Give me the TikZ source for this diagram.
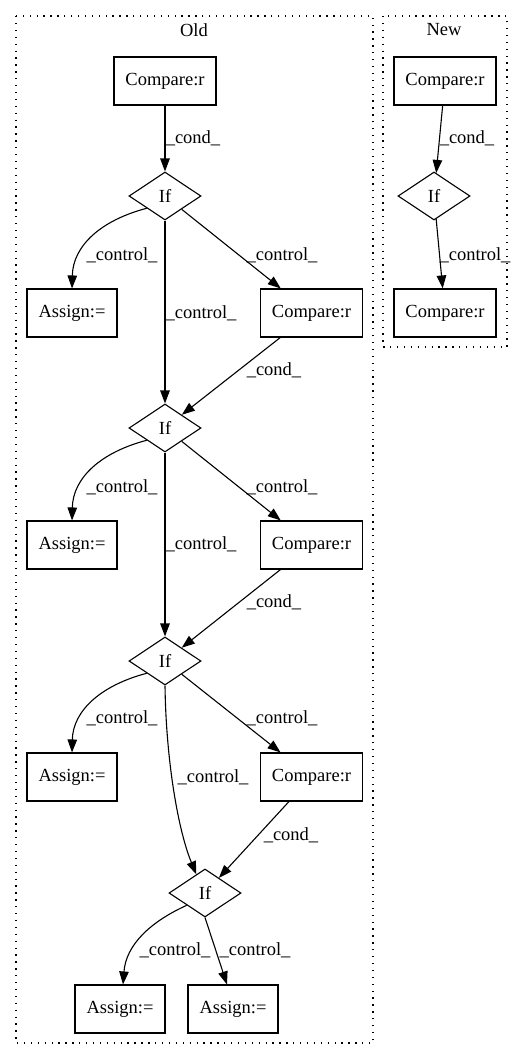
\documentclass[tikz,border=0pt]{standalone}
\usepackage{fontspec}
\setmainfont{Liberation Serif}
\usetikzlibrary{shapes.geometric,arrows.meta}
\begin{document}
\begin{tikzpicture}[x=1pt,y=-1pt,
  every node/.style={font=\fontsize{18.5}{22}\selectfont, inner sep=0pt},
  cmpbox/.style={draw, line width=1.1pt, rectangle, minimum width=102pt, minimum height=48pt},
  asgbox/.style={draw, line width=1.1pt, rectangle, minimum width=90pt, minimum height=48pt},
  ifnode/.style={draw, line width=1.1pt, diamond, aspect=1.5, minimum width=72pt, minimum height=48pt},
  cluster/.style={draw, line width=1.3pt, dash pattern=on 1.3pt off 5.6pt},
  ed/.style={draw, line width=1.1pt, -{Triangle[length=13pt,width=9.5pt]}},
  lbl/.style={}
]
\useasboundingbox (0,0) rectangle (523,1060);

% clusters
\draw[cluster] (16,16) rectangle (373,1043);
\draw[cluster] (383,16) rectangle (507,347);
\node (tOld) at (194,30) {Old};
\node (tNew) at (444,30) {New};

% Old graph
\node[cmpbox] (oc1) at (165,81) {Compare:r};
\node[ifnode] (if1) at (165,196) {If};
\node[asgbox] (as1) at (72,313) {Assign:=};
\node[cmpbox] (oc2) at (311.5,313) {Compare:r};
\node[ifnode] (if2) at (165,428) {If};
\node[asgbox] (as2) at (72,545) {Assign:=};
\node[cmpbox] (oc3) at (311.5,545) {Compare:r};
\node[ifnode] (if3) at (165,661) {If};
\node[asgbox] (as3) at (72,777) {Assign:=};
\node[cmpbox] (oc4) at (311.5,777) {Compare:r};
\node[ifnode] (if4) at (205,893) {If};
\node[asgbox] (as4) at (120,1009) {Assign:=};
\node[asgbox] (as5) at (233,1009) {Assign:=};

% New graph
\node[cmpbox] (nc1) at (445,81) {Compare:r};
\node[ifnode] (nif) at (434,196) {If};
\node[cmpbox] (nc2) at (445,313) {Compare:r};

% Old edges
\draw[ed] (oc1) -- (if1);
\node[lbl] (l1) at (193,138) {\_cond\_};

\draw[ed] (if1.south west) .. controls (102,220) and (73,245) .. (as1.north);
\node[lbl] (l2) at (122,255) {\_control\_};
\draw[ed] (if1) -- (if2);
\node[lbl] (l3) at (201,313) {\_control\_};
\draw[ed] (if1) -- (oc2);
\node[lbl] (l4) at (282,255) {\_control\_};
\draw[ed] (oc2) -- (if2);
\node[lbl] (l5) at (274,370) {\_cond\_};

\draw[ed] (if2.south west) .. controls (102,452) and (73,477) .. (as2.north);
\node[lbl] (l6) at (122,487) {\_control\_};
\draw[ed] (if2) -- (if3);
\node[lbl] (l7) at (201,544) {\_control\_};
\draw[ed] (if2) -- (oc3);
\node[lbl] (l8) at (282,487) {\_control\_};
\draw[ed] (oc3) -- (if3);
\node[lbl] (l9) at (274,602) {\_cond\_};

\draw[ed] (if3.south west) .. controls (102,685) and (73,710) .. (as3.north);
\node[lbl] (l10) at (122,718) {\_control\_};
\draw[ed] (if3.south) .. controls (166,760) and (178,830) .. (if4.115);
\node[lbl] (l11) at (213,777) {\_control\_};
\draw[ed] (if3) -- (oc4);
\node[lbl] (l12) at (282,718) {\_control\_};
\draw[ed] (oc4) -- (if4);
\node[lbl] (l13) at (291,835) {\_cond\_};

\draw[ed] (if4.south west) .. controls (150,922) and (126,945) .. ([xshift=3pt]as4.north);
\node[lbl] (l14) at (175,950) {\_control\_};
\draw[ed] (if4.south) -- ([xshift=-6pt]as5.north);
\node[lbl] (l15) at (255,950) {\_control\_};

% New edges
\draw[ed] (nc1) -- (nif);
\node[lbl] (l16) at (467,138) {\_cond\_};
\draw[ed] (nif) -- (nc2);
\node[lbl] (l17) at (475,255) {\_control\_};
\end{tikzpicture}
\end{document}
